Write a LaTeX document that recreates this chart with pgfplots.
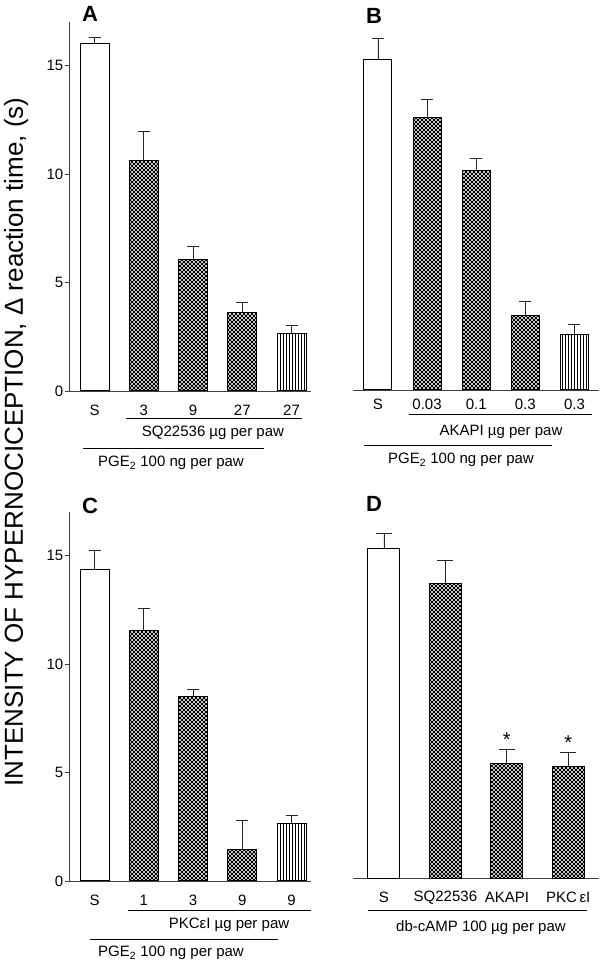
\documentclass[border=0pt]{standalone}
\usepackage{pgfplots}
\pgfplotsset{compat=1.18}
\usepackage{fontspec}
\setmainfont{Liberation Sans}
\usetikzlibrary{patterns}

% fine diagonal cross hatch and vertical lines, as in the figure
\pgfdeclarepatternformonly{xhatch}{\pgfqpoint{-1pt}{-1pt}}{\pgfqpoint{5pt}{5pt}}{\pgfqpoint{4pt}{4pt}}{%
  \pgfsetlinewidth{0.75pt}%
  \pgfpathmoveto{\pgfqpoint{-0.5pt}{-0.5pt}}\pgfpathlineto{\pgfqpoint{4.5pt}{4.5pt}}%
  \pgfpathmoveto{\pgfqpoint{-0.5pt}{4.5pt}}\pgfpathlineto{\pgfqpoint{4.5pt}{-0.5pt}}%
  \pgfusepath{stroke}}
\pgfdeclarepatternformonly{vlines}{\pgfqpoint{-1pt}{-1pt}}{\pgfqpoint{4pt}{4pt}}{\pgfqpoint{3pt}{3pt}}{%
  \pgfsetlinewidth{0.7pt}%
  \pgfpathmoveto{\pgfqpoint{1.5pt}{-1pt}}\pgfpathlineto{\pgfqpoint{1.5pt}{4pt}}%
  \pgfusepath{stroke}}

\pgfplotsset{
  panel/.style={
    scale only axis, height=369pt,
    ymin=0, ymax=17, xmin=0.5,
    axis x line*=bottom,
    axis line style={black!75, line width=0.8pt},
    xtick style={draw=none},
    tick label style={font=\fontsize{15}{17}\selectfont},
    /pgf/number format/assume math mode=true,
    clip=false,
  },
  yleft/.style={
    axis y line*=left,
    ytick={0,5,10,15},
    tick align=outside, major tick length=5pt,
    ytick style={black!75, line width=0.8pt},
    yticklabel style={inner sep=1.5pt},
  },
  ynone/.style={axis y line=none},
  bar/.style={ybar, bar width=#1, bar shift=0pt, draw=black, line width=1pt,
    error bars/y dir=plus, error bars/y explicit,
    error bars/error bar style={black!85, line width=0.8pt},
    error bars/error mark options={rotate=90, black!85, line width=0.8pt, mark size=6pt}},
  bar/.default=29pt,
}

\begin{document}
\begin{tikzpicture}[x=1pt, y=1pt]
\useasboundingbox (0,0) rectangle (600,962);

% ---- A ----
\begin{axis}[panel, yleft, at={(69.9pt,571pt)}, anchor=south west,
  width=241.3pt, xmax=5.4, xtick={1,...,5}, xticklabels={S,3,9,27,27},
  xticklabel style={anchor=center, yshift=-14pt}]
\addplot[bar, fill=white] coordinates {(1,16.03) +- (0,0.26)};
\addplot[bar, pattern=xhatch] coordinates {
  (2,10.6) +- (0,1.35)
  (3,6.06) +- (0,0.6)
  (4,3.62) +- (0,0.44)
};
\addplot[bar, pattern=vlines] coordinates {(5,2.63) +- (0,0.37)};
\end{axis}

% ---- B ----
\begin{axis}[panel, ynone, at={(353.4pt,572pt)}, anchor=south west,
  width=245.6pt, xmax=5.5, xtick={1,...,5}, xticklabels={S,0.03,0.1,0.3,0.3},
  xticklabel style={anchor=center, yshift=-14pt}]
\addplot[bar=28pt, fill=white] coordinates {(1,15.24) +- (0,0.96)};
\addplot[bar=28pt, pattern=xhatch] coordinates {
  (2,12.55) +- (0,0.82)
  (3,10.1) +- (0,0.57)
  (4,3.45) +- (0,0.65)
};
\addplot[bar=28pt, pattern=vlines] coordinates {(5,2.57) +- (0,0.46)};
\end{axis}

% ---- C ----
\begin{axis}[panel, yleft, at={(69.9pt,81pt)}, anchor=south west,
  width=241.3pt, xmax=5.4, xtick={1,...,5}, xticklabels={S,1,3,9,9},
  xticklabel style={anchor=center, yshift=-14pt}]
\addplot[bar, fill=white] coordinates {(1,14.34) +- (0,0.87)};
\addplot[bar, pattern=xhatch] coordinates {
  (2,11.55) +- (0,1.0)
  (3,8.5) +- (0,0.31)
  (4,1.46) +- (0,1.31)
};
\addplot[bar, pattern=vlines] coordinates {(5,2.66) +- (0,0.37)};
\end{axis}

% ---- D ----
\begin{axis}[panel, ynone, at={(353.25pt,83.7pt)}, anchor=south west,
  width=245.75pt, xmax=4.5, xtick={1,...,4},
  xticklabels={S,SQ22536,AKAPI,PKC\,εI},
  xticklabel style={anchor=center, yshift=-19pt}]
\addplot[bar=32pt, fill=white, error bars/error mark options={rotate=90, black!85, line width=0.8pt, mark size=8pt}]
  coordinates {(1,15.18) +- (0,0.72)};
\addplot[bar=32pt, pattern=xhatch, error bars/error mark options={rotate=90, black!85, line width=0.8pt, mark size=8pt}]
  coordinates {
  (2,13.6) +- (0,1.03)
  (3,5.31) +- (0,0.64)
  (4,5.14) +- (0,0.67)
};
\addplot[draw=none, nodes near coords={*}, nodes near coords align={above},
  every node near coord/.append style={font=\fontsize{20}{20}\selectfont, inner sep=1pt, yshift=1pt}]
  coordinates {(3,5.95) (4,5.81)};
\end{axis}

% panel letters
\begin{scope}[every node/.style={font=\bfseries\fontsize{22}{24}\selectfont, inner sep=0pt}]
\node at (90,948) {A};
\node at (374,946.5) {B};
\node at (90,456) {C};
\node at (374,458.5) {D};
\end{scope}

% treatment groups under the bars
\begin{scope}[line width=0.9pt, every node/.style={font=\fontsize{15}{17}\selectfont, inner sep=0pt}]
\draw (126,962-418.3) -- (302,962-418.3);
\node at (213,962-433) {SQ22536 µg per paw};
\draw (83,962-448.3) -- (264,962-448.3);
\node at (171,962-463) {PGE\textsubscript{2} 100 ng per paw};

\draw (409,962-414.3) -- (592,962-414.3);
\node at (501,962-432) {AKAPI µg per paw};
\draw (364,962-445.7) -- (552,962-445.7);
\node at (461,962-460) {PGE\textsubscript{2} 100 ng per paw};

\draw (128,962-910.7) -- (311,962-910.7);
\node at (229,962-925) {PKCεI µg per paw};
\draw (90,962-939) -- (278,962-939);
\node at (171,962-953) {PGE\textsubscript{2} 100 ng per paw};

\draw (368,962-910.7) -- (587,962-910.7);
\node at (481,962-927.7) {db-cAMP 100 µg per paw};
\end{scope}

% shared y label
\node[rotate=90, anchor=base, inner sep=0pt, font=\fontsize{26}{30}\selectfont]
  at (23,520) {INTENSITY OF HYPERNOCICEPTION, Δ reaction time, (s)};
\end{tikzpicture}
\end{document}
